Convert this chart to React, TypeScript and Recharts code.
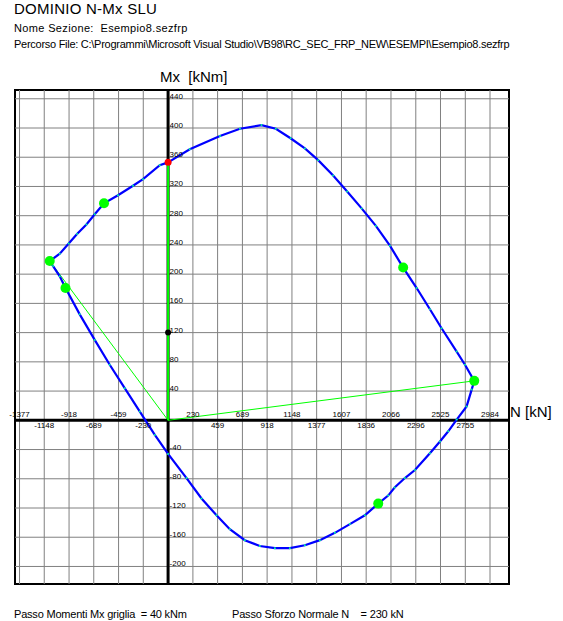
import React from "react";
import {
  ComposedChart,
  Line,
  Scatter,
  XAxis,
  YAxis,
  ReferenceLine,
  ReferenceArea,
} from "recharts";

// plot window (kN, kNm)
const nDomain: [number, number] = [-1419, 3160];
const mDomain: [number, number] = [-224, 452];

// grid lines: step 229.54 kN and 40 kNm
const nGrid = [
  -1377, -1148, -918, -689, -459, -230, 0, 230, 459, 689, 918, 1148, 1377,
  1607, 1836, 2066, 2296, 2525, 2755, 2984,
];
const mGrid = [
  -200, -160, -120, -80, -40, 0, 40, 80, 120, 160, 200, 240, 280, 320, 360,
  400, 440,
];

// tick labels along the axes
const nLabelsAbove = [-1377, -918, -459, 230, 689, 1148, 1607, 2066, 2525, 2984];
const nLabelsBelow = [-1148, -689, -230, 459, 918, 1377, 1836, 2296, 2755];
const mLabels = [
  -200, -160, -120, -80, -40, 40, 80, 120, 160, 200, 240, 280, 320, 360, 400,
  440,
];

// resistance domain boundary, N [kN] / Mx [kNm], clockwise from N = 0
const domainPoints: [number, number][] = [
  [0, 353], [201, 371], [481, 389], [666, 399], [866, 404], [999, 399],
  [1135, 386], [1268, 372], [1391, 356], [1530, 335], [1660, 313],
  [1794, 290], [1926, 266], [2056, 239], [2179, 209], [2304, 181],
  [2427, 152], [2535, 126], [2675, 94], [2752, 76], [2838, 54], [2814, 42],
  [2767, 19], [2675, 1], [2597, -15], [2520, -29], [2427, -45], [2288, -68],
  [2195, -79], [2100, -92], [2040, -103], [1948, -114], [1824, -130],
  [1685, -142], [1546, -154], [1407, -164], [1268, -171], [1129, -175],
  [990, -175], [850, -172], [711, -164], [572, -149], [449, -130],
  [310, -107], [171, -79], [0, -46], [-123, -20], [-262, 12], [-402, 44],
  [-541, 76], [-680, 110], [-819, 145], [-951, 181], [-1004, 197],
  [-1066, 211], [-1097, 218], [-1004, 228], [-921, 242], [-844, 255],
  [-757, 268], [-680, 282], [-594, 297], [-464, 308], [-325, 321],
  [-232, 330], [-77, 349], [0, 353],
];

// characteristic points (green), load points
const keyPoints: [number, number][] = [
  [-1097, 218], [-951, 181], [-594, 297], [2179, 209], [2838, 54], [1948, -114],
];
const redPoint: [number, number] = [0, 353];
const blackPoint: [number, number] = [0, 120];
const leftRay: [number, number][] = [[0, 0], [-1097, 218]];
const rightRay: [number, number][] = [[0, 0], [2838, 54]];

const toRows = (pts: [number, number][]) => pts.map(([n, m]) => ({ n, m }));

const domainData = toRows(domainPoints);
const keyData = toRows(keyPoints);
const redData = toRows([redPoint]);
const blackData = toRows([blackPoint]);
const leftRayData = toRows(leftRay);
const rightRayData = toRows(rightRay);
const axisRayData = toRows([[0, 0], redPoint]);
const aboveData = nLabelsAbove.map((n) => ({ n, m: 0 }));
const belowData = nLabelsBelow.map((n) => ({ n, m: 0 }));
const mLabelData = mLabels.map((m) => ({ n: 0, m }));

const FONT = "Arial, 'Liberation Sans', sans-serif";
const tickFont = { fontFamily: FONT, fontSize: 8, fill: "#000" };

const textStyle = (
  left: number,
  top: number,
  size: number,
  spacing = 0
): React.CSSProperties => ({
  position: "absolute",
  left,
  top,
  fontFamily: FONT,
  fontSize: size,
  lineHeight: `${size}px`,
  letterSpacing: spacing,
  whiteSpace: "pre",
  color: "#000",
});

export default function App() {
  return (
    <div
      style={{
        position: "absolute",
        left: 0,
        top: 0,
        width: 563,
        height: 621,
        background: "#fff",
        overflow: "hidden",
      }}
    >
      <ComposedChart
        width={563}
        height={621}
        margin={{ top: 90, right: 54, bottom: 37, left: 15 }}
      >
        <XAxis
          type="number"
          dataKey="n"
          domain={nDomain}
          ticks={nGrid}
          tick={false}
          tickLine={false}
          axisLine={false}
          height={0}
        />
        <YAxis
          type="number"
          dataKey="m"
          domain={mDomain}
          ticks={mGrid}
          tick={false}
          tickLine={false}
          axisLine={false}
          width={0}
        />
        {nGrid.map((v) => (
          <ReferenceLine key={`gx${v}`} x={v} stroke="#808080" strokeWidth={1} />
        ))}
        {mGrid.map((v) => (
          <ReferenceLine key={`gy${v}`} y={v} stroke="#808080" strokeWidth={1} />
        ))}
        <ReferenceArea
          x1={nDomain[0]}
          x2={nDomain[1]}
          y1={mDomain[0]}
          y2={mDomain[1]}
          fill="none"
          stroke="#000"
          strokeWidth={2}
        />
        <ReferenceLine y={0} stroke="#000" strokeWidth={3} />
        <ReferenceLine x={0} stroke="#000" strokeWidth={3} />
        <Line
          data={axisRayData}
          dataKey="m"
          stroke="#00ff00"
          strokeWidth={2}
          dot={false}
          isAnimationActive={false}
        />
        <Line
          data={leftRayData}
          dataKey="m"
          stroke="#00ff00"
          strokeWidth={1}
          dot={false}
          isAnimationActive={false}
        />
        <Line
          data={rightRayData}
          dataKey="m"
          stroke="#00ff00"
          strokeWidth={1}
          dot={false}
          isAnimationActive={false}
        />
        <Line
          data={domainData}
          dataKey="m"
          type="linear"
          stroke="#0000ff"
          strokeWidth={2.2}
          dot={{ r: 1, fill: "#00ff99", stroke: "none" }}
          isAnimationActive={false}
        />
        <Scatter
          data={keyData}
          dataKey="m"
          isAnimationActive={false}
          shape={(p: any) => (
            <circle cx={p.cx} cy={p.cy} r={5} fill="#00ff00" />
          )}
        />
        <Scatter
          data={redData}
          dataKey="m"
          isAnimationActive={false}
          shape={(p: any) => <circle cx={p.cx} cy={p.cy} r={3.5} fill="#ff0000" />}
        />
        <Scatter
          data={blackData}
          dataKey="m"
          isAnimationActive={false}
          shape={(p: any) => <circle cx={p.cx} cy={p.cy} r={3} fill="#000" />}
        />
        <Scatter
          data={aboveData}
          dataKey="m"
          isAnimationActive={false}
          shape={(p: any) => (
            <text x={p.cx} y={p.cy - 3.5} textAnchor="middle" {...tickFont}>
              {p.payload.n}
            </text>
          )}
        />
        <Scatter
          data={belowData}
          dataKey="m"
          isAnimationActive={false}
          shape={(p: any) => (
            <text x={p.cx} y={p.cy + 8} textAnchor="middle" {...tickFont}>
              {p.payload.n}
            </text>
          )}
        />
        <Scatter
          data={mLabelData}
          dataKey="m"
          isAnimationActive={false}
          shape={(p: any) => (
            <text x={p.cx + 1.5} y={p.cy} textAnchor="start" {...tickFont}>
              {p.payload.m}
            </text>
          )}
        />
      </ComposedChart>

      <div style={textStyle(14, 1, 15, 0.25)}>DOMINIO N-Mx SLU</div>
      <div style={textStyle(14, 22.7, 11, 0.35)}>Nome Sezione:  Esempio8.sezfrp</div>
      <div style={textStyle(14, 39.2, 11, -0.27)}>
        Percorso File: C:\Programmi\Microsoft Visual Studio\VB98\RC_SEC_FRP_NEW\ESEMPI\Esempio8.sezfrp
      </div>
      <div style={textStyle(160, 69, 15)}>Mx  [kNm]</div>
      <div style={textStyle(510, 404.3, 15)}>N [kN]</div>
      <div style={textStyle(14, 608.7, 11, -0.2)}>Passo Momenti Mx griglia  = 40 kNm</div>
      <div style={textStyle(232, 608.7, 11, -0.18)}>Passo Sforzo Normale N    = 230 kN</div>
    </div>
  );
}
